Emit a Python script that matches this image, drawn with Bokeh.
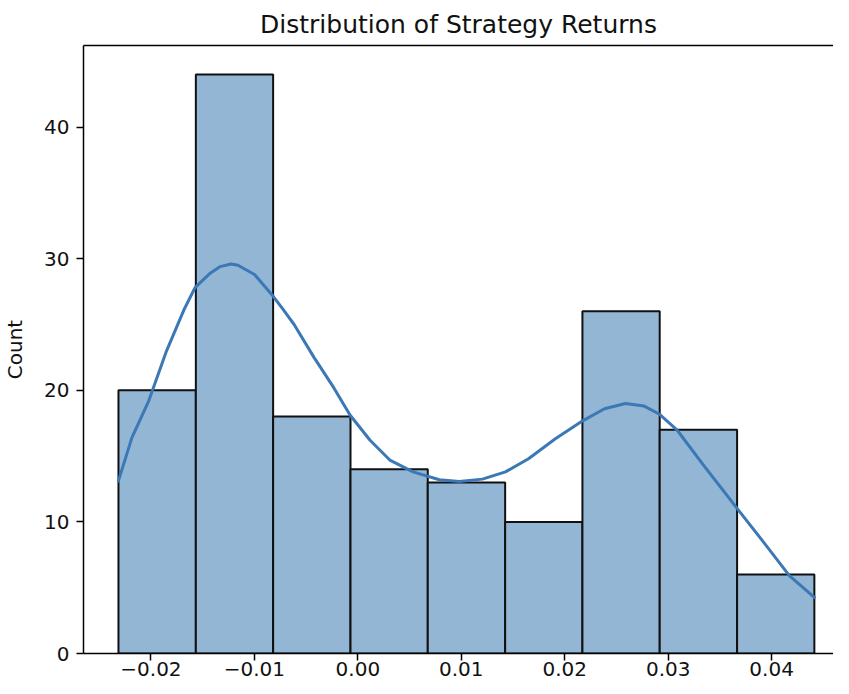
from bokeh.plotting import figure
from bokeh.models import Range1d, FixedTicker, LinearAxis, ColumnDataSource
from bokeh.embed import file_html
from bokeh.resources import INLINE

# ---- data ----
bin_edges = [-0.02314, -0.01566, -0.00819, -0.00071, 0.00676, 0.01424,
             0.02171, 0.02918, 0.03666, 0.04413]
counts = [20, 44, 18, 14, 13, 10, 26, 17, 6]

kde_x = [-0.02315, -0.02184, -0.02021, -0.01849, -0.01676, -0.01574, -0.01427,
         -0.01330, -0.01226, -0.01159, -0.00999, -0.00824, -0.00728, -0.00616,
         -0.00424, -0.00233, -0.00074, 0.00118, 0.00309, 0.00534, 0.00788,
         0.00980, 0.01204, 0.01427, 0.01650, 0.01906, 0.02177, 0.02385,
         0.02586, 0.02768, 0.02912, 0.03084, 0.03343, 0.03662, 0.03918,
         0.04173, 0.04413]
kde_y = [13.1, 16.4, 19.2, 23.0, 26.2, 27.8, 28.9,
         29.4, 29.6, 29.5, 28.8, 27.2, 26.2, 25.0,
         22.5, 20.2, 18.1, 16.2, 14.7, 13.8, 13.2,
         13.07, 13.25, 13.8, 14.8, 16.3, 17.7, 18.6,
         19.0, 18.8, 18.2, 17.0, 14.3, 11.06, 8.5,
         5.9, 4.26]

x_ticks = [-0.02, -0.01, 0.00, 0.01, 0.02, 0.03, 0.04]
x_tick_labels = ["\u22120.02", "\u22120.01", "0.00", "0.01", "0.02", "0.03", "0.04"]
y_ticks = [0, 10, 20, 30, 40]

title_text = "Distribution of Strategy Returns"
y_label = "Count"

# ---- styling ----
FONT = "DejaVu Sans"
BAR_FILL = "#92b6d4"
LINE_COLOR = "#3a78b6"

p = figure(width=833, height=678, output_backend="svg", toolbar_location=None,
           x_range=Range1d(-0.02652, 0.04598), y_range=Range1d(0, 46.2),
           min_border_left=75, min_border_right=0, min_border_top=36,
           min_border_bottom=0, title=title_text)

p.title.text_font = FONT
p.title.text_font_size = "25px"
p.title.text_font_style = "normal"
p.title.align = "center"
p.title.text_color = "#111111"
p.title.standoff = 14

p.outline_line_color = None
p.xgrid.visible = False
p.ygrid.visible = False
p.background_fill_color = "white"
p.border_fill_color = "white"

src = ColumnDataSource(dict(left=bin_edges[:-1], right=bin_edges[1:],
                            top=counts, bottom=[0] * len(counts)))
p.quad(left="left", right="right", top="top", bottom="bottom", source=src,
       fill_color=BAR_FILL, fill_alpha=1.0, line_color="#111111", line_width=2.0)

p.line(kde_x, kde_y, line_color=LINE_COLOR, line_width=3.0,
       line_join="round", line_cap="round")

for ax in (p.xaxis[0], p.yaxis[0]):
    ax.axis_line_color = "black"
    ax.axis_line_width = 1.5
    ax.major_tick_line_color = "black"
    ax.major_tick_line_width = 1.5
    ax.major_tick_out = 7
    ax.major_tick_in = 0
    ax.minor_tick_line_color = None
    ax.major_label_text_font = FONT
    ax.major_label_text_font_size = "20px"
    ax.major_label_text_color = "#111111"

p.xaxis[0].ticker = FixedTicker(ticks=x_ticks)
p.xaxis[0].major_label_overrides = {t: l for t, l in zip(x_ticks, x_tick_labels)}
p.xaxis[0].major_label_standoff = 1

p.yaxis[0].ticker = FixedTicker(ticks=y_ticks)
p.yaxis[0].major_label_standoff = 7
p.yaxis[0].axis_label = y_label
p.yaxis[0].axis_label_text_font = FONT
p.yaxis[0].axis_label_text_font_size = "20px"
p.yaxis[0].axis_label_text_font_style = "normal"
p.yaxis[0].axis_label_text_color = "#111111"
p.yaxis[0].axis_label_standoff = 14

# top spine (right spine lies outside the cropped reference)
top = LinearAxis(ticker=FixedTicker(ticks=[]), major_label_standoff=0,
                 major_tick_out=0, major_tick_in=0, minor_tick_line_color=None,
                 major_label_text_font_size="0px", axis_line_color="black",
                 axis_line_width=1.5)
p.add_layout(top, "above")

open("out.html", "w").write(file_html(p, INLINE))
